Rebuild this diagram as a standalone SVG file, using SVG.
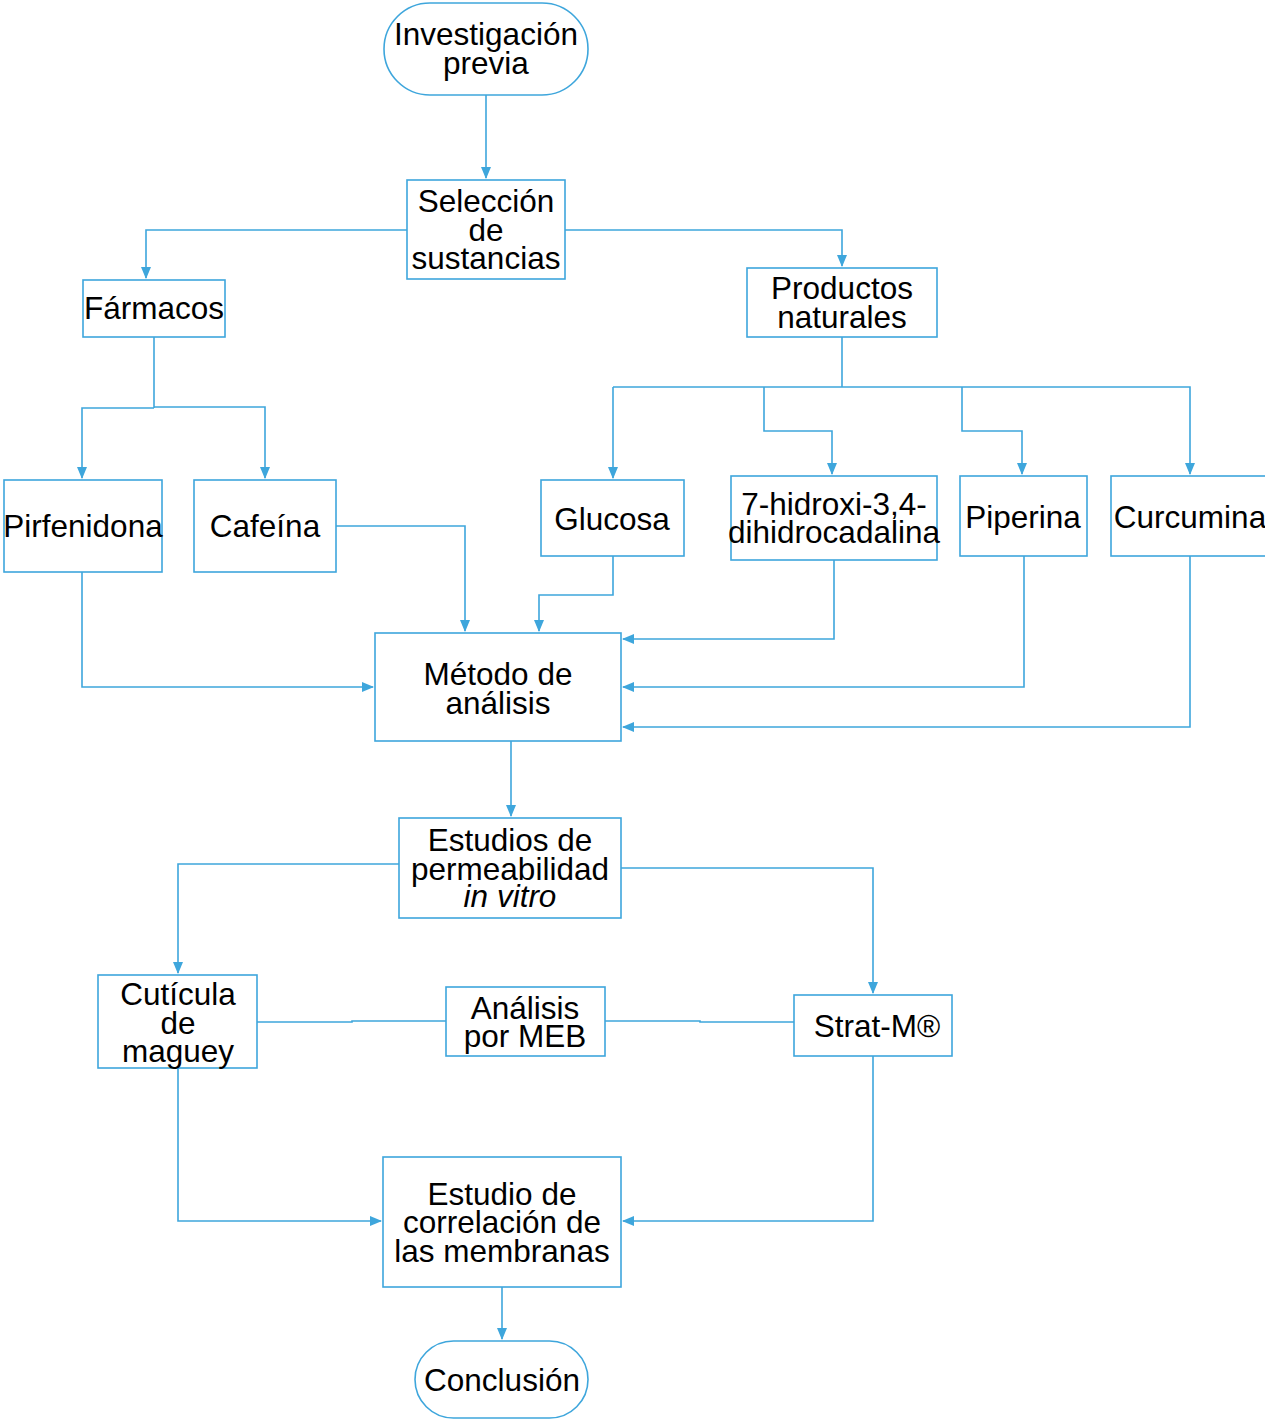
<svg xmlns="http://www.w3.org/2000/svg" width="1265" height="1421" viewBox="0 0 1265 1421">
<style>
.n{fill:#fff;stroke:#3ea6dc;stroke-width:1.6}
.t{font-family:"Liberation Sans",Arial,sans-serif;font-size:31.5px;fill:#000;text-anchor:middle}
.c{fill:none;stroke:#3ea6dc;stroke-width:1.6}
.a{marker-end:url(#ah)}
</style>
<defs>
<marker id="ah" markerUnits="userSpaceOnUse" markerWidth="12" markerHeight="10" viewBox="0 0 12 10" refX="11" refY="5" orient="auto">
<path d="M0,0 L12,5 L0,10 Z" fill="#3ea6dc"/>
</marker>
</defs>
<rect width="1265" height="1421" fill="#fff"/>
<g id="connectors">
<path class="c a" d="M486,95 V178"/>
<path class="c a" d="M407,230 H146 V278"/>
<path class="c a" d="M565,230 H842 V266"/>
<path class="c" d="M154,337 V408"/>
<path class="c a" d="M154,408 H82 V478"/>
<path class="c a" d="M154,407 H265 V478"/>
<path class="c" d="M842,337 V387"/>
<path class="c a" d="M613,387 H1190 V474"/>
<path class="c a" d="M613,387 V478"/>
<path class="c a" d="M764,387 V431 H832 V474"/>
<path class="c a" d="M962,387 V431 H1022 V474"/>
<path class="c a" d="M82,572 V687 H373"/>
<path class="c a" d="M336,526 H465 V631"/>
<path class="c a" d="M613,556 V595 H539 V631"/>
<path class="c a" d="M834,560 V639 H623"/>
<path class="c a" d="M1024,556 V687 H623"/>
<path class="c a" d="M1190,556 V727 H623"/>
<path class="c a" d="M511,741 V816"/>
<path class="c a" d="M399,864 H178 V973"/>
<path class="c a" d="M621,868 H873 V993"/>
<path class="c" d="M257,1022 H352 V1021 H446"/>
<path class="c" d="M605,1021 H700 V1022 H794"/>
<path class="c a" d="M178,1068 V1221 H381"/>
<path class="c a" d="M873,1056 V1221 H623"/>
<path class="c a" d="M502,1287 V1339"/>
</g>
<g id="investigacion">
<rect class="n" x="384" y="3" width="204" height="92" rx="46"/>
<text class="t" x="486" y="45">Investigación</text>
<text class="t" x="486" y="74">previa</text>
</g>
<g id="seleccion">
<rect class="n" x="407" y="180" width="158" height="99"/>
<text class="t" x="486" y="212">Selección</text>
<text class="t" x="486" y="241">de</text>
<text class="t" x="486" y="269">sustancias</text>
</g>
<g id="farmacos">
<rect class="n" x="83" y="280" width="142" height="57"/>
<text class="t" x="154" y="319">Fármacos</text>
</g>
<g id="productos">
<rect class="n" x="747" y="268" width="190" height="69"/>
<text class="t" x="842" y="299">Productos</text>
<text class="t" x="842" y="328">naturales</text>
</g>
<g id="pirfenidona">
<rect class="n" x="4" y="480" width="158" height="92"/>
<text class="t" x="83" y="537">Pirfenidona</text>
</g>
<g id="cafeina">
<rect class="n" x="194" y="480" width="142" height="92"/>
<text class="t" x="265" y="537">Cafeína</text>
</g>
<g id="glucosa">
<rect class="n" x="541" y="480" width="143" height="76"/>
<text class="t" x="612" y="530">Glucosa</text>
</g>
<g id="hidroxi">
<rect class="n" x="731" y="476" width="206" height="84"/>
<text class="t" x="834" y="515">7-hidroxi-3,4-</text>
<text class="t" x="834" y="543">dihidrocadalina</text>
</g>
<g id="piperina">
<rect class="n" x="960" y="476" width="127" height="80"/>
<text class="t" x="1023" y="528">Piperina</text>
</g>
<g id="curcumina">
<rect class="n" x="1111" y="476" width="160" height="80"/>
<text class="t" x="1190" y="528">Curcumina</text>
</g>
<g id="metodo">
<rect class="n" x="375" y="633" width="246" height="108"/>
<text class="t" x="498" y="685">Método de</text>
<text class="t" x="498" y="714">análisis</text>
</g>
<g id="estudios">
<rect class="n" x="399" y="818" width="222" height="100"/>
<text class="t" x="510" y="851">Estudios de</text>
<text class="t" x="510" y="880">permeabilidad</text>
<text class="t" x="510" y="907" font-style="italic">in vitro</text>
</g>
<g id="cuticula">
<rect class="n" x="98" y="975" width="159" height="93"/>
<text class="t" x="178" y="1005">Cutícula</text>
<text class="t" x="178" y="1034">de</text>
<text class="t" x="178" y="1062">maguey</text>
</g>
<g id="meb">
<rect class="n" x="446" y="987" width="159" height="69"/>
<text class="t" x="525" y="1019">Análisis</text>
<text class="t" x="525" y="1047">por MEB</text>
</g>
<g id="stratm">
<rect class="n" x="794" y="995" width="158" height="61"/>
<text class="t" x="877" y="1037">Strat-M®</text>
</g>
<g id="correlacion">
<rect class="n" x="383" y="1157" width="238" height="130"/>
<text class="t" x="502" y="1205">Estudio de</text>
<text class="t" x="502" y="1233">correlación de</text>
<text class="t" x="502" y="1262">las membranas</text>
</g>
<g id="conclusion">
<rect class="n" x="415" y="1341" width="173" height="77" rx="38.5"/>
<text class="t" x="502" y="1391">Conclusión</text>
</g>
</svg>
